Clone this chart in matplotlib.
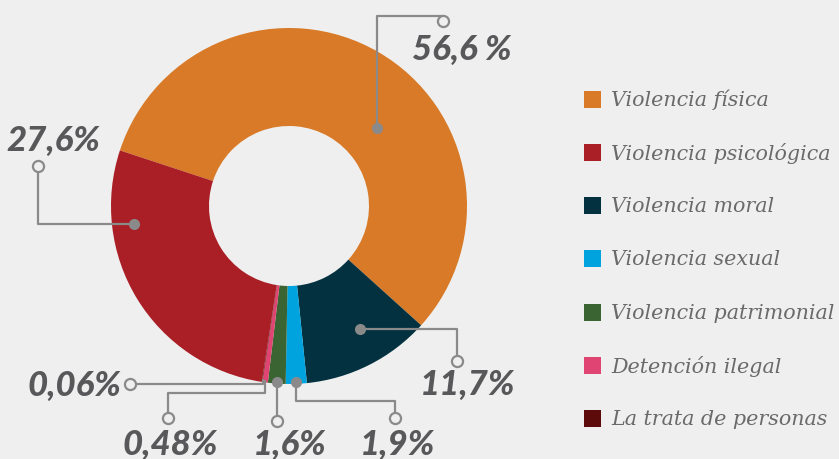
import matplotlib.pyplot as plt
import numpy as np

# data
categories = ['Violencia física', 'Violencia psicológica', 'Violencia moral',
              'Violencia sexual', 'Violencia patrimonial', 'Detención ilegal',
              'La trata de personas']
values = [56.6, 27.6, 11.7, 1.9, 1.6, 0.48, 0.06]
labels = ['56,6 %', '27,6%', '11,7%', '1,9%', '1,6%', '0,48%', '0,06%']
colors = ['#D87A27', '#AA1E25', '#03313F', '#00A3DE', '#3A6431', '#E04473', '#5C0A0A']

# pie order (clockwise): física, moral, sexual, patrimonial, detención, trata, psicológica
pie_order = [0, 2, 3, 4, 5, 6, 1]

W, H = 839, 460
BG = '#EFEFEF'
LINE = '#8A8A8A'
TXT = '#58585A'


def P(x, y):
    # image pixel coords -> axes coords (y up)
    return x, H - y


fig = plt.figure(figsize=(W / 100, H / 100), dpi=100, facecolor=BG)
ax = fig.add_axes([0, 0, 1, 1])
ax.set_facecolor(BG)

cx, cy = P(289, 207)
R = 178
wedges, _ = ax.pie([values[i] for i in pie_order],
                   colors=[colors[i] for i in pie_order],
                   startangle=161.8, counterclock=False,
                   center=(cx, cy), radius=R,
                   wedgeprops=dict(width=R - 80, linewidth=0))
wedge_of = {idx: w for idx, w in zip(pie_order, wedges)}

ax.set_xlim(0, W)
ax.set_ylim(0, H)
ax.set_aspect('equal')
ax.axis('off')

# leader lines: (slice, frac along wedge, radius, moves, label pos, filled dot)
leaders = [
    (0, 0.41, 118, [('v', 17), ('h', 443), ('v', 22)], (462, 50), True),
    (1, 0.25, 156, [('h', 38), ('v', 167)], (53, 141), True),
    (2, 0.58, 142, [('h', 457), ('v', 362)], (468, 385), True),
    (6, 0.5, 175, [('v', 385), ('h', 130)], (74, 386), False),
    (5, 0.5, 176, [('v', 394), ('h', 168), ('v', 419)], (170, 445), False),
    (4, 0.5, 176, [('v', 422)], (290, 445), True),
    (3, 0.5, 176, [('v', 402), ('h', 395), ('v', 419)], (398, 445), True),
]

for idx, frac, r, moves, lpos, dot in leaders:
    w = wedge_of[idx]
    ang = np.deg2rad(w.theta1 + frac * (w.theta2 - w.theta1))
    x0, y0 = cx + r * np.cos(ang), cy + r * np.sin(ang)
    xs, ys = [x0], [y0]
    for kind, v in moves:
        if kind == 'v':
            xs.append(xs[-1]); ys.append(H - v)
        else:
            xs.append(v); ys.append(ys[-1])
    ax.plot(xs, ys, color=LINE, lw=1.6, solid_capstyle='butt', zorder=3)
    if dot:
        ax.plot(x0, y0, 'o', color=LINE, ms=7, zorder=4)
    ax.plot(xs[-1], ys[-1], 'o', ms=8, mfc=BG, mec=LINE, mew=1.6, zorder=4)
    lx, ly = P(*lpos)
    ax.text(lx, ly, labels[idx], ha='center', va='center', fontsize=25,
            fontweight='black', fontstyle='italic', color=TXT,
            family=['Lato', 'DejaVu Sans'])

# legend
for i, name in enumerate(categories):
    y = 100 + i * 53.3
    x, yy = P(584, y)
    ax.add_patch(plt.Rectangle((x, yy - 8.5), 17, 17, color=colors[i], lw=0))
    ax.text(611, yy, name, ha='left', va='center', fontsize=14.9,
            fontstyle='italic', color='#6A6A6A', family='DejaVu Serif')

fig.savefig('out.png', dpi=100, facecolor=BG)
